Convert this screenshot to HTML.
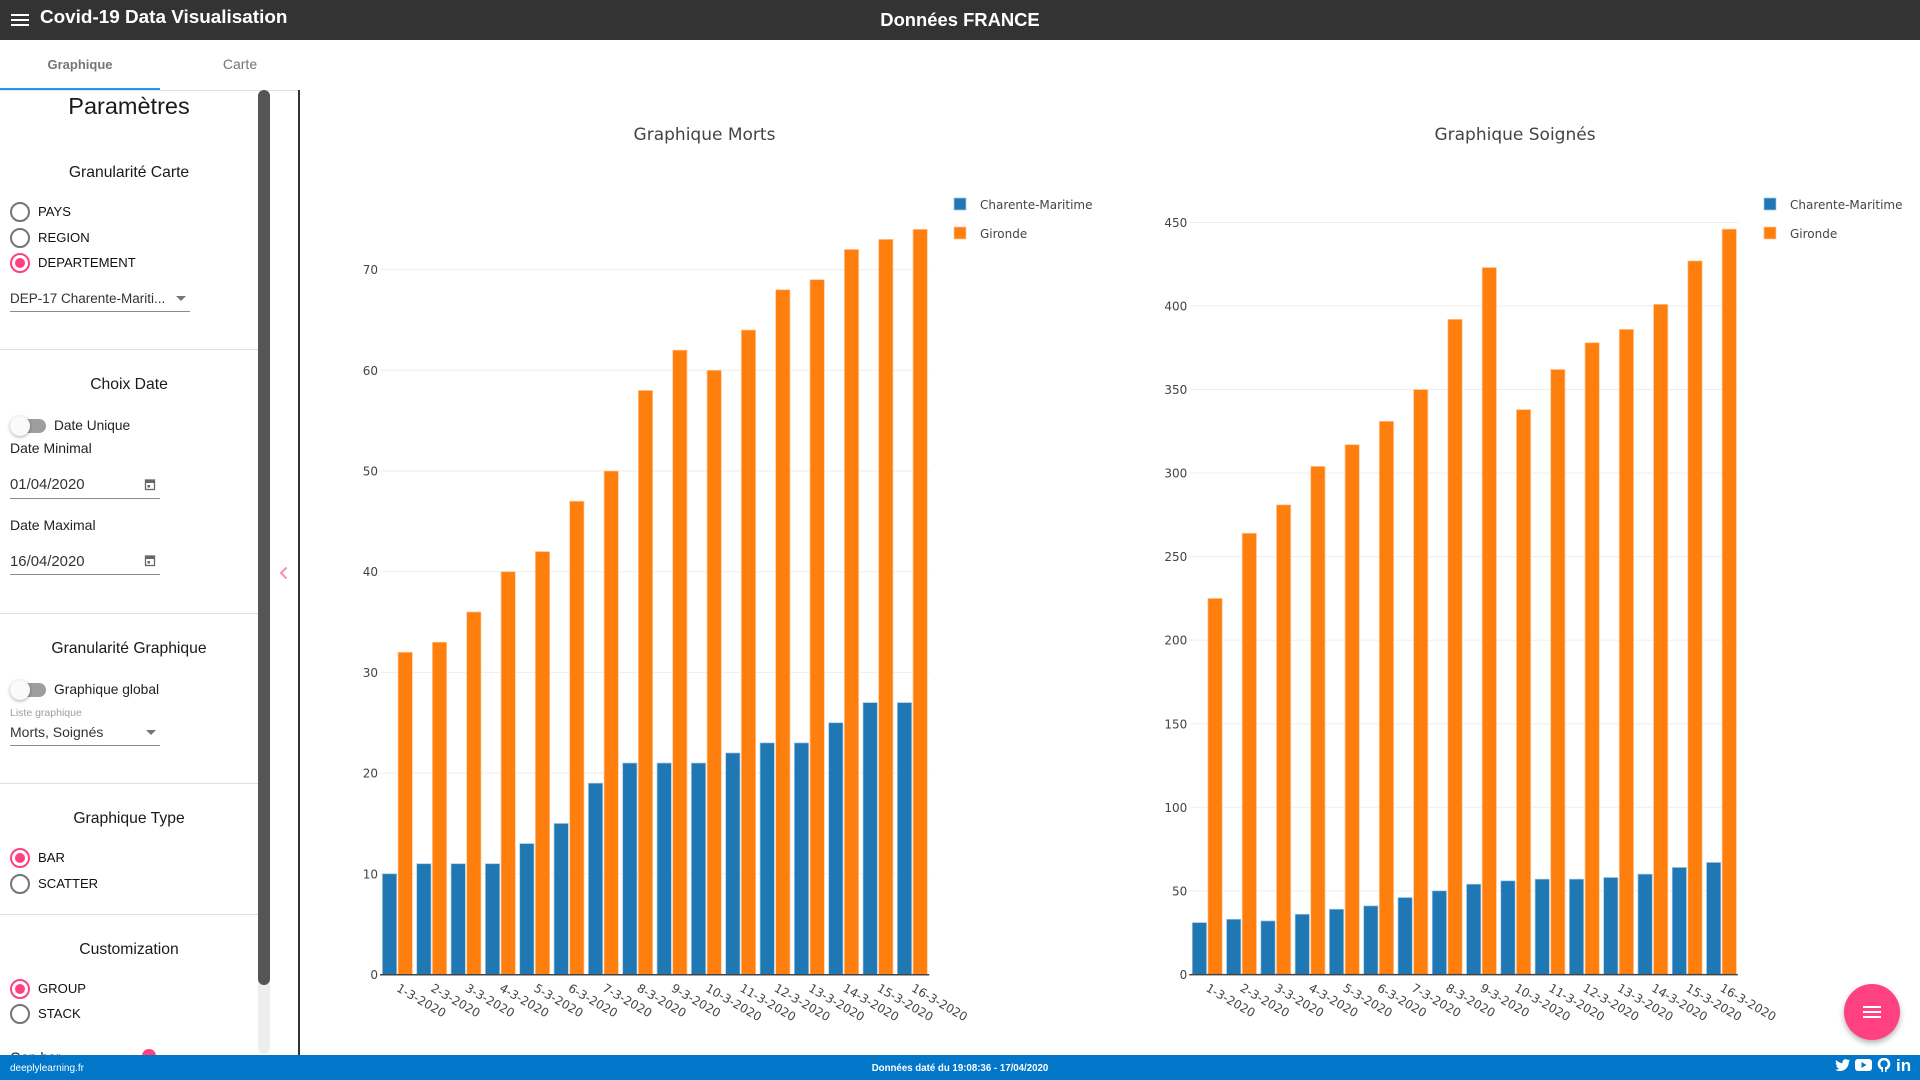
<!DOCTYPE html>
<html lang="fr">
<head>
<meta charset="utf-8">
<title>Covid-19 Data Visualisation</title>
<style>
html,body{margin:0;padding:0;width:1920px;height:1080px;overflow:hidden;background:#fff;font-family:"Liberation Sans",sans-serif;color:#111}
.a{position:absolute;white-space:nowrap}
.c{position:absolute;left:0;width:258px;text-align:center;font-size:15.7px;line-height:20px;color:#1a1a1a}
.radio{position:absolute;left:10px;width:16px;height:16px;border:2.5px solid #757575;border-radius:50%;background:#fff}
.radio.on{border-color:#ff4081}
.radio.on i{position:absolute;left:3px;top:3px;width:10px;height:10px;border-radius:50%;background:#ff4081}
.lbl{position:absolute;left:38px;font-size:13.1px;line-height:16px;color:#111}
.txt{position:absolute;left:10px;font-size:14px;line-height:16px;color:#222}
.hr{position:absolute;left:0;width:258px;height:1px;background:#e0e0e0}
.ul{position:absolute;left:10px;height:1px;background:#8a8a8a}
.tog{position:absolute;left:20px;width:26px;height:14px;border-radius:7px;background:#9e9e9e}
.knob{position:absolute;left:10px;width:20px;height:20px;border-radius:50%;background:#fafafa;box-shadow:0 1px 3px rgba(0,0,0,.35)}
.arrow{position:absolute;width:0;height:0;border-left:5px solid transparent;border-right:5px solid transparent;border-top:5px solid #757575}
</style>
</head>
<body>
<div class="a" style="left:0;top:0;width:1920px;height:40px;background:#333"></div>
<svg class="a" style="left:11px;top:14px" width="18" height="12"><rect y="0" width="18" height="2" fill="#fff"/><rect y="5" width="18" height="2" fill="#fff"/><rect y="10" width="18" height="2" fill="#fff"/></svg>
<div class="a" style="left:40px;top:5.5px;font-size:18.9px;line-height:24px;font-weight:bold;color:#fff">Covid-19 Data Visualisation</div>
<div class="a" style="left:760px;width:400px;text-align:center;top:8px;font-size:18.4px;line-height:24px;font-weight:bold;color:#fff">Données FRANCE</div>

<div class="a" style="left:0;top:90px;width:300px;height:1px;background:#e0e0e0"></div>
<div class="a" style="left:0;top:57px;width:160px;text-align:center;font-size:13px;line-height:16px;font-weight:bold;color:#757575">Graphique</div>
<div class="a" style="left:0;top:88px;width:160px;height:2px;background:#2196f3"></div>
<div class="a" style="left:160px;top:56px;width:160px;text-align:center;font-size:14px;line-height:16px;color:#757575">Carte</div>

<div class="a" style="left:258px;top:90px;width:12px;height:964px;background:#eee;border-radius:6px"></div>
<div class="a" style="left:258px;top:90px;width:12px;height:895px;background:#555;border-radius:6px"></div>
<div class="a" style="left:298px;top:90px;width:2px;height:966px;background:#333"></div>

<div class="c" style="top:92px;font-size:23.5px;line-height:28px">Paramètres</div>

<div class="c" style="top:162.500px">Granularité Carte</div>
<div class="radio" style="top:201.500px"></div>
<div class="lbl" style="top:203.500px">PAYS</div>
<div class="radio" style="top:227.500px"></div>
<div class="lbl" style="top:229.500px">REGION</div>
<div class="radio on" style="top:253px"><i></i></div>
<div class="lbl" style="top:254.500px">DEPARTEMENT</div>
<div class="txt" style="top:291px;font-size:13.5px;color:#333">DEP-17 Charente-Mariti...</div>
<div class="arrow" style="left:176px;top:296px"></div>
<div class="ul" style="top:311px;width:180px"></div>
<div class="hr" style="top:349px"></div>

<div class="c" style="top:374.500px">Choix Date</div>
<div class="tog" style="top:419px"></div>
<div class="knob" style="top:416px"></div>
<div class="a" style="left:54px;top:417.500px;font-size:13.7px;line-height:16px;color:#222">Date Unique</div>
<div class="txt" style="top:440px">Date Minimal</div>
<div class="txt" style="top:477px;font-size:14.9px;color:#333">01/04/2020</div>
<svg class="a" style="left:144px;top:478px" width="12" height="13"><rect x="1.500" y="2" width="9" height="9.500" fill="none" stroke="#666" stroke-width="1.3"/><rect x="1.500" y="2" width="9" height="3" fill="#666"/><rect x="3.500" y="7" width="2.500" height="2.500" fill="#666"/></svg>
<div class="ul" style="top:498px;width:150px"></div>
<div class="txt" style="top:517px">Date Maximal</div>
<div class="txt" style="top:554px;font-size:14.9px;color:#333">16/04/2020</div>
<svg class="a" style="left:144px;top:554px" width="12" height="13"><rect x="1.500" y="2" width="9" height="9.500" fill="none" stroke="#666" stroke-width="1.3"/><rect x="1.500" y="2" width="9" height="3" fill="#666"/><rect x="3.500" y="7" width="2.500" height="2.500" fill="#666"/></svg>
<div class="ul" style="top:574px;width:150px"></div>
<div class="hr" style="top:613px"></div>
<svg class="a" style="left:279px;top:566px" width="10" height="14"><path d="M7.500 1.500L2 7l5.500 5.500" fill="none" stroke="#f48fb1" stroke-width="2"/></svg>

<div class="c" style="top:638.500px">Granularité Graphique</div>
<div class="tog" style="top:683px"></div>
<div class="knob" style="top:680px"></div>
<div class="a" style="left:54px;top:681.500px;font-size:13.8px;line-height:16px;color:#222">Graphique global</div>
<div class="a" style="left:10px;top:706.500px;font-size:10.500px;line-height:12px;color:#9e9e9e">Liste graphique</div>
<div class="txt" style="top:724px;color:#333">Morts, Soignés</div>
<div class="arrow" style="left:146px;top:730px"></div>
<div class="ul" style="top:745px;width:150px"></div>
<div class="hr" style="top:783px"></div>

<div class="c" style="top:808.500px">Graphique Type</div>
<div class="radio on" style="top:848px"><i></i></div>
<div class="lbl" style="top:849.500px">BAR</div>
<div class="radio" style="top:873.500px"></div>
<div class="lbl" style="top:875.500px">SCATTER</div>
<div class="hr" style="top:914px"></div>

<div class="c" style="top:939.500px">Customization</div>
<div class="radio on" style="top:978.500px"><i></i></div>
<div class="lbl" style="top:980.500px">GROUP</div>
<div class="radio" style="top:1004px"></div>
<div class="lbl" style="top:1005.500px">STACK</div>
<div class="txt" style="top:1049px">Gap bar</div>
<div class="a" style="left:142px;top:1049px;width:14px;height:14px;border-radius:50%;background:#ff4081"></div>

<svg id="chart-morts" class="a" style="left:300px;top:90px" width="810" height="965"></svg>
<svg id="chart-soignes" class="a" style="left:1110px;top:90px" width="810" height="965"></svg>

<div class="a" style="left:1844px;top:984px;width:56px;height:56px;border-radius:50%;background:#ff4081;box-shadow:0 3px 6px rgba(0,0,0,.3)"></div>
<svg class="a" style="left:1863px;top:1006px" width="18" height="12"><rect y="0" width="18" height="2" fill="#fff"/><rect y="5" width="18" height="2" fill="#fff"/><rect y="10" width="18" height="2" fill="#fff"/></svg>

<div class="a" style="left:0;top:1055px;width:1920px;height:25px;background:#0277c9"></div>
<div class="a" style="left:10px;top:1062.500px;font-size:10px;line-height:12px;color:#fff">deeplylearning.fr</div>
<div class="a" style="left:760px;width:400px;text-align:center;top:1062.500px;font-size:9.7px;line-height:12px;font-weight:bold;color:#fff">Données daté du 19:08:36 - 17/04/2020</div>
<svg class="a" style="left:1835px;top:1058px" width="15" height="14"><path d="M1 2c2 2 4 3 6.500 3.200C7.200 2.500 9.200 1 11 1.200c.9 0 1.500.4 2 .9l1.800-.7-1 1.700 1.200-.3-1.200 1.300C13.800 9 10 13 5 13c-1.800 0-3.300-.4-4.800-1.300 1.600.1 3-.3 4.200-1.200C2.800 10.300 1.800 9.500 1.300 8l1.300-.1C1.300 7.300.6 6.200.6 4.900l1.300.4C.8 4.500.5 3.200 1 2z" fill="#fff"/></svg>
<svg class="a" style="left:1855px;top:1059px" width="17" height="12"><rect width="17" height="12" rx="3" fill="#fff"/><path d="M6.500 3l5 3-5 3z" fill="#0277c9"/></svg>
<svg class="a" style="left:1877px;top:1058px" width="14" height="14"><circle cx="7" cy="6" r="5" fill="none" stroke="#fff" stroke-width="2.600"/><rect x="4.500" y="9" width="5" height="5" fill="#fff"/><rect x="6" y="9" width="2" height="5" fill="#0277c9"/></svg>
<div class="a" style="left:1896px;top:1058px;font-size:17px;line-height:16px;font-weight:bold;color:#fff">in</div>

<script>
const categories = ['1-3-2020','2-3-2020','3-3-2020','4-3-2020','5-3-2020','6-3-2020','7-3-2020','8-3-2020','9-3-2020','10-3-2020','11-3-2020','12-3-2020','13-3-2020','14-3-2020','15-3-2020','16-3-2020'];
const seriesNames = ['Charente-Maritime','Gironde'];
const mortsCharente = [10,11,11,11,13,15,19,21,21,21,22,23,23,25,27,27];
const mortsGironde = [32,33,36,40,42,47,50,58,62,60,64,68,69,72,73,74];
const soignesCharente = [31,33,32,36,39,41,46,50,54,56,57,57,58,60,64,67];
const soignesGironde = [225,264,281,304,317,331,350,392,423,338,362,378,386,401,427,446];
const mortsTicks = [0,10,20,30,40,50,60,70];
const soignesTicks = [0,50,100,150,200,250,300,350,400,450];

const NS = 'http://www.w3.org/2000/svg';
const FONT = '"DejaVu Sans", sans-serif';
const FILLS = ['#1f77b4','#ff7f0e'];
const EDGES = ['#a6c8e1','#ffc796'];

function node(parent, tag, attrs, text) {
  const el = document.createElementNS(NS, tag);
  for (const k in attrs) el.setAttribute(k, attrs[k]);
  if (text !== undefined) el.textContent = text;
  parent.appendChild(el);
  return el;
}

function drawChart(svg, title, titleX, series, ticks, box) {
  const yScale = v => box.y0 - v * box.pxPerUnit;
  const band = (box.x1 - box.x0) / categories.length;
  const xCenter = i => box.x0 + band * (i + 0.5) + box.barShift;
  const barW = band * 0.416;
  const gap = band * 0.04;

  const titleEl = node(svg, 'text', {x: titleX, y: 50, 'text-anchor': 'middle', 'font-family': FONT, 'font-size': 17, fill: '#444'}, title);
  
  

  ticks.forEach(t => {
    if (t > 0) {
      const g = node(svg, 'rect', {x: box.x0, y: yScale(t) - 0.5, width: box.x1 - box.x0, height: 1, fill: '#eeeeee'});
      
      
    }
    const lab = node(svg, 'text', {x: box.x0 - 2, y: yScale(t) + 4.500, 'text-anchor': 'end', 'font-family': FONT, 'font-size': 12, fill: '#444'}, String(t));
    
    
  });

  series.forEach((vals, s) => {
    vals.forEach((v, i) => {
      const bx = s === 0 ? xCenter(i) - gap / 2 - barW : xCenter(i) + gap / 2;
      const bar = node(svg, 'rect', {x: bx, y: yScale(v), width: barW, height: box.y0 - yScale(v), fill: FILLS[s], stroke: EDGES[s], 'stroke-width': 0.7});
      
      
    });
  });

  const axis = node(svg, 'rect', {x: box.x0, y: box.y0 - 0.5, width: box.x1 - box.x0, height: 1.500, fill: '#444'});
  
  

  categories.forEach((c, i) => {
    const x = box.x0 + band * (i + 0.5) - 1.5;
    const y = box.y0 + 16;
    const lab = node(svg, 'text', {x: x, y: y, transform: 'rotate(30 ' + x + ' ' + y + ')', 'font-family': FONT, 'font-size': 12, fill: '#444'}, c);
    
    
  });

  seriesNames.forEach((n, s) => {
    const sy = 108 + s * 29;
    const sw = node(svg, 'rect', {x: box.legendX, y: sy, width: 12, height: 12, fill: FILLS[s], stroke: EDGES[s], 'stroke-width': 0.7});
    
    
    const lt = node(svg, 'text', {x: box.legendX + 26, y: sy + 11, 'font-family': FONT, 'font-size': 12, fill: '#444'}, n);
    
    
  });
}

drawChart(document.getElementById('chart-morts'), 'Graphique Morts', 404.5,
  [mortsCharente, mortsGironde], mortsTicks,
  {x0: 80, x1: 629.3, y0: 884.5, pxPerUnit: 10.07, legendX: 654, barShift: 0.2});
drawChart(document.getElementById('chart-soignes'), 'Graphique Soignés', 405,
  [soignesCharente, soignesGironde], soignesTicks,
  {x0: 79.3, x1: 627.8, y0: 884.4, pxPerUnit: 1.671, legendX: 654, barShift: 0.8});
</script>
</body>
</html>
